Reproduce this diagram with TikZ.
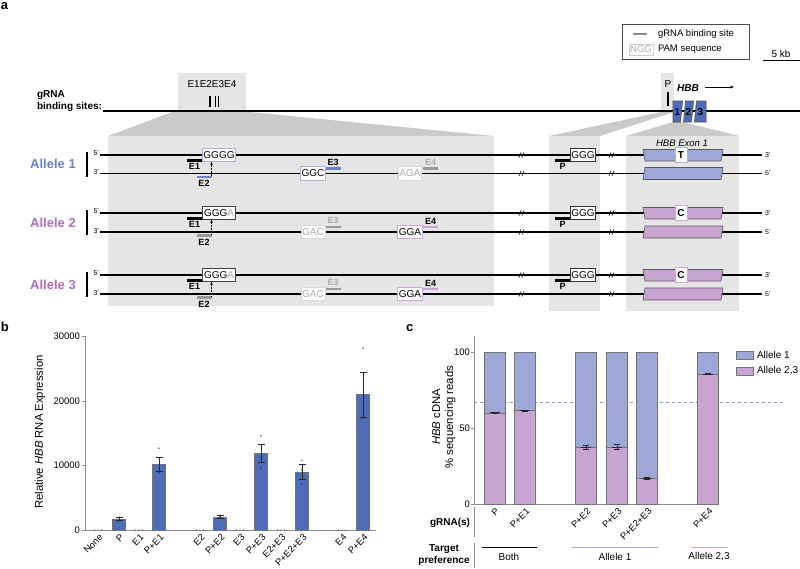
\documentclass[tikz,border=0pt]{standalone}
\usepackage{fontspec}
\setmainfont{Liberation Sans}
\usetikzlibrary{positioning, calc, arrows.meta}

\definecolor{alleleblue}{HTML}{6B80C8}
\definecolor{allelepurple}{HTML}{B06CC0}
\definecolor{exblue}{HTML}{9DA8D8}
\definecolor{expurple}{HTML}{C7A5D0}
\definecolor{pamblue}{HTML}{A8B3E0}
\definecolor{pampurple}{HTML}{CFA9D9}
\definecolor{barblue}{HTML}{4D6CB9}
\definecolor{boxgray}{HTML}{E5E5E5}
\definecolor{projgray}{HTML}{CACACA}
\definecolor{fadegray}{HTML}{ABABAB}

\begin{document}
\begin{tikzpicture}[x=1pt, y=-1pt,
    every node/.style={inner sep=0pt, outer sep=0pt},
    panel/.style={font=\bfseries\fontsize{13}{15}\selectfont, anchor=west},
    txt/.style={font=\fontsize{10}{12}\selectfont},
    strand/.style={line width=1.3pt},
    seqbox/.style={draw, fill=white, line width=0.8pt, inner xsep=1.2pt, minimum height=13.5pt, font=\fontsize{10}{12}\selectfont},
    basebox/.style={draw, fill=white, line width=0.8pt, minimum width=12pt, minimum height=15pt, font=\bfseries\fontsize{10}{12}\selectfont},
    grnabar/.style={minimum width=15pt, minimum height=2.6pt},
    elabel/.style={font=\bfseries\fontsize{9}{10}\selectfont},
    endlabel/.style={font=\fontsize{7}{8}\selectfont},
    allele/.style={font=\bfseries\fontsize{13}{15}\selectfont},
    exonshape/.style={draw=black!65, line width=0.6pt},
    cutarrow/.style={densely dotted, line width=0.5pt, -{Stealth[length=3pt, width=2.5pt]}},
    axisline/.style={draw=black!45, line width=0.6pt},
    ticklabel/.style={font=\fontsize{9.5}{11}\selectfont, anchor=east},
    xlab/.style={font=\fontsize{9.3}{11}\selectfont, rotate=45, anchor=east},
    bbar/.style={fill=barblue, draw=black!55, line width=0.5pt},
    cbar/.style={draw=black!55, line width=0.5pt},
    errbar/.style={draw=black!85, line width=0.5pt}
  ]
  \useasboundingbox (0,0) rectangle (800,568);

  % ---------- panel a ----------
  \node[panel] (pa) at (1,6) {a};

  % legend and scale
  \node[draw=black!70, line width=0.6pt, minimum width=127pt, minimum height=35pt, anchor=north west] (legend) at (622,24) {};
  \draw[line width=2.4pt, black!45] (633,34) -- (647,34);
  \node[txt, font=\fontsize{9.5}{11}\selectfont, anchor=west] (lgrna) at (658,34) {gRNA binding site};
  \node[seqbox, draw=black!20, text=fadegray, line width=0.6pt, minimum height=11pt, font=\fontsize{9.5}{11}\selectfont] (lgpam) at (641,49.5) {NGG};
  \node[txt, font=\fontsize{9.5}{11}\selectfont, anchor=west] (lgpamtxt) at (658,49.5) {PAM sequence};
  \draw[line width=0.7pt] (763,60) -- (800,60);
  \node[txt] (scale) at (781,53.5) {5 kb};

  % zoom projections and boxes
  \fill[boxgray] (178,73) rectangle (246,111);
  \fill[boxgray] (661,73) rectangle (674,111);
  \fill[projgray] (172,112) -- (250,112) -- (494,136) -- (108,136) -- cycle;
  \fill[projgray] (661,112) -- (674,112) -- (600,136) -- (549,136) -- cycle;
  \fill[projgray] (673,122) -- (683,122) -- (739,136) -- (626,136) -- cycle;
  \fill[boxgray] (108,136) rectangle (494,306);
  \fill[boxgray] (549,136) rectangle (600,311);
  \fill[boxgray] (626,136) rectangle (739,311);

  % chromosome
  \node[font=\bfseries\fontsize{10}{12}\selectfont, align=left, anchor=west] (gbs) at (37,101) {gRNA\\binding sites:};
  \draw[line width=2.7pt] (103,111) -- (800,111);
  \node[txt] (enames) at (212,84) {E1E2E3E4};
  \draw[line width=1.4pt] (210,96) -- (210,107) (215.3,96) -- (215.3,107) (218.3,96) -- (218.3,107);
  \node[txt] (pname) at (668,84) {P};
  \draw[line width=1.2pt] (668,92) -- (668,106);
  \filldraw[fill=barblue, draw=black!70, line width=0.6pt] (673,101) -- (682.5,101) -- (680.5,122) -- (673,122) -- cycle;
  \filldraw[fill=barblue, draw=black!70, line width=0.6pt] (685.5,101) -- (693.5,101) -- (691.5,122) -- (683.5,122) -- cycle;
  \filldraw[fill=barblue, draw=black!70, line width=0.6pt] (696.5,101) -- (706,101) -- (706,122) -- (694.5,122) -- cycle;
  \node[font=\bfseries\fontsize{10}{12}\selectfont] (ex1) at (677.5,112) {1};
  \node[font=\bfseries\fontsize{10}{12}\selectfont] (ex2) at (688.5,112) {2};
  \node[font=\bfseries\fontsize{10}{12}\selectfont] (ex3) at (700.5,112) {3};
  \node[font=\bfseries\itshape\fontsize{10}{12}\selectfont] (hbb) at (688,88) {HBB};
  \draw[line width=0.7pt, -{Stealth[length=4pt, width=3pt]}] (705,87) -- (734,87);
  \node[font=\itshape\fontsize{9.5}{11}\selectfont] (exlab) at (682,143) {HBB Exon 1};

  % allele 1
  \draw[strand] (100,155) -- (762,155);
  \draw[strand] (100,173.5) -- (762,173.5);
  \draw[line width=1.5pt] (87,152) -- (87,177);
  \node[allele, text=alleleblue] (al1) at (53,164) {Allele 1};
  \node[endlabel, anchor=east] at (99,153.5) {5'};
  \node[endlabel, anchor=east] at (99,172.5) {3'};
  \node[endlabel, anchor=west] at (765,155) {3'};
  \node[endlabel, anchor=west] at (765,173.5) {5'};
  \node[seqbox, draw=pamblue] (pam1) at (219,155) {GGGG};
  \node[grnabar, fill=black] (e1a) at (194.5,160.5) {};
  \node[elabel, below=2pt of e1a] {E1};
  \node[grnabar, fill=alleleblue] (e2a) at (204,177) {};
  \node[elabel, below=2pt of e2a] {E2};
  \draw[cutarrow] (e2a.north east) -- (e2a.north east |- pam1.south);
  \node[seqbox, draw=pamblue] (gc1) at (313,173.5) {GGC};
  \node[grnabar, fill=alleleblue] (e3a) at (333,168.3) {};
  \node[elabel, above=1.5pt of e3a] {E3};
  \node[seqbox, draw=black!15, text=fadegray] (ag1) at (410,173.5) {AGA};
  \node[grnabar, fill=black!40] (e4a) at (430.5,168.3) {};
  \node[elabel, text=fadegray, above=1.5pt of e4a] {E4};
  \node[seqbox, draw=black!80] (pp1) at (583,155) {GGG};
  \node[grnabar, fill=black] (pb1) at (562.5,160.5) {};
  \node[elabel, below=1.5pt of pb1] {P};
  \filldraw[exonshape, fill=exblue] (643,149.5) -- (723,149.5) -- (721,161) -- (645,161) -- cycle;
  \filldraw[exonshape, fill=exblue] (645,167.5) -- (723,167.5) -- (721,179.5) -- (643,179.5) -- cycle;
  \node[basebox, draw=pamblue] (base1) at (681,155) {T};

  % alleles 2 and 3
  \foreach \n/\yt/\yb in {2/213/232, 3/275/294} {
    \draw[strand] (100,\yt) -- (762,\yt);
    \draw[strand] (100,\yb) -- (762,\yb);
    \draw[line width=1.5pt] (87,\yt-3) -- (87,\yb+3);
    \node[allele, text=allelepurple] (al\n) at (53,{(\yt+\yb)/2}) {Allele \n};
    \node[endlabel, anchor=east] at (99,\yt-1.5) {5'};
    \node[endlabel, anchor=east] at (99,\yb-1) {3'};
    \node[endlabel, anchor=west] at (765,\yt) {3'};
    \node[endlabel, anchor=west] at (765,\yb) {5'};
    \node[seqbox, draw=black!75] (pam\n) at (219,\yt) {GGG\textcolor{fadegray}{A}};
    \node[grnabar, fill=black] (e1\n) at (194.5,\yt+5.5) {};
    \node[elabel, below=2pt of e1\n] {E1};
    \node[grnabar, fill=black!40] (e2\n) at (204,\yb+3.5) {};
    \node[elabel, below=2pt of e2\n] {E2};
    \draw[cutarrow] (e2\n.north east) -- (e2\n.north east |- pam\n.south);
    \node[seqbox, draw=black!15, text=fadegray] (gac\n) at (313,\yb) {GAC};
    \node[grnabar, fill=black!40] (e3\n) at (333,\yb-5.2) {};
    \node[elabel, text=fadegray, above=1.5pt of e3\n] {E3};
    \node[seqbox, draw=pampurple] (gga\n) at (410,\yb) {GGA};
    \node[grnabar, fill=expurple] (e4\n) at (430.5,\yb-5.2) {};
    \node[elabel, above=1.5pt of e4\n] {E4};
    \node[seqbox, draw=black!80] (pp\n) at (583,\yt) {GGG};
    \node[grnabar, fill=black] (pb\n) at (562.5,\yt+5.5) {};
    \node[elabel, below=1.5pt of pb\n] {P};
    \filldraw[exonshape, fill=expurple] (643,\yt-5.5) -- (723,\yt-5.5) -- (721,\yt+6) -- (645,\yt+6) -- cycle;
    \filldraw[exonshape, fill=expurple] (645,\yb-6) -- (723,\yb-6) -- (721,\yb+6) -- (643,\yb+6) -- cycle;
    \node[basebox, draw=pampurple] (base\n) at (681,\yt) {C};
  }

  % breaks in the strands
  \foreach \yy in {155,173.5,213,232,275,294}
    \foreach \xx in {522,612} {
      \draw[line width=0.6pt] (\xx-3,\yy+2.5) -- (\xx-1,\yy-2.5) (\xx,\yy+2.5) -- (\xx+2,\yy-2.5);
    }

  % ---------- panel b ----------
  \node[panel] (pb) at (1,327) {b};
  \node[rotate=90, font=\fontsize{11.3}{13}\selectfont] (ylabb) at (40,432) {Relative \textit{HBB} RNA Expression};
  \begin{scope}[shift={(0,530)}, y=6.45pt]
    \draw[axisline] (85,30.1) -- (85,0) -- (376,0);
    \foreach \v/\t in {0/0, 10/10000, 20/20000, 30/30000} {
      \draw[axisline] (82,\v) -- (85,\v);
      \node[ticklabel] at (80,\v) {\t};
    }
    \foreach \x/\v/\e in {119/1.7/0.25, 159/10.2/1.15, 220/2.05/0.3, 261/11.9/1.4, 302/9.0/1.15, 363/21.0/3.5} {
      \draw[bbar] (\x-6.5,0) rectangle (\x+6.5,\v);
      \draw[errbar] (\x,\v-\e) -- (\x,\v+\e) (\x-3.5,\v+\e) -- (\x+3.5,\v+\e) (\x-3.5,\v-\e) -- (\x+3.5,\v-\e);
    }
    \foreach \x/\v in {119/2.0, 119/1.5, 119/1.4, 159/12.7, 159/9.0, 159/8.9, 220/2.3, 220/1.9, 220/2.0,
        261/14.6, 261/11.3, 261/9.6, 302/10.8, 302/9.3, 302/7.1, 363/28.2, 363/17.5, 363/17.3}
      \fill[black!80] (\x,\v) circle (0.8pt);
    \foreach \x in {98,139,200,240,281,342}
      \foreach \d in {-3.5,0,3.5}
        \fill[black!70] (\x+\d,0) circle (0.7pt);
  \end{scope}
  \foreach \x/\lab in {98/None, 119/P, 139/E1, 159/P+E1, 200/E2, 220/P+E2, 240/E3, 261/P+E3, 281/E2+E3, 302/P+E2+E3, 342/E4, 363/P+E4}
    \node[xlab] at (\x+3,536) {\lab};

  % ---------- panel c ----------
  \node[panel] (pc) at (406,328) {c};
  \node[rotate=90, align=center, font=\fontsize{11.3}{13}\selectfont] (ylabc) at (444,417) {\textit{HBB} cDNA\\\% sequencing reads};
  \begin{scope}[shift={(0,504)}, y=1.52pt]
    \draw[dashed, exblue!85!black, line width=0.6pt] (474,67) -- (786,67);
    \draw[axisline] (474,110.5) -- (474,0) -- (718,0);
    \foreach \v in {0,50,100} {
      \draw[axisline] (471,\v) -- (474,\v);
      \node[ticklabel] at (470,\v) {\v};
    }
    \foreach \x/\v/\e in {494.5/60/0.4, 525/61.5/0.4, 586/37.5/1.2, 617/37.5/1.8, 647/17/0.4, 708/85.5/0.4} {
      \draw[cbar, fill=expurple] (\x-10.5,0) rectangle (\x+10.5,\v);
      \draw[cbar, fill=exblue] (\x-10.5,\v) rectangle (\x+10.5,100);
      \draw[errbar, line width=0.9pt] (\x-5,\v) -- (\x+5,\v);
      \draw[errbar] (\x,\v-\e) -- (\x,\v+\e) (\x-3,\v+\e) -- (\x+3,\v+\e) (\x-3,\v-\e) -- (\x+3,\v-\e);
    }
  \end{scope}
  \foreach \x/\lab in {494.5/P, 525/P+E1, 586/P+E2, 617/P+E3, 647/P+E2+E3, 708/P+E4}
    \node[xlab] at (\x+3,510) {\lab};

  % legend c
  \filldraw[cbar, fill=exblue] (736,351) rectangle (753,359.5);
  \node[txt, anchor=west] (lgal1) at (757,355) {Allele 1};
  \filldraw[cbar, fill=expurple] (736,367) rectangle (753,375.5);
  \node[txt, anchor=west] (lgal23) at (757,371) {Allele 2,3};

  % gRNA and target rows
  \node[font=\bfseries\fontsize{10}{12}\selectfont, anchor=east] (grnas) at (470,523) {gRNA(s)};
  \draw[axisline] (474,507) -- (474,537);
  \node[font=\bfseries\fontsize{10}{12}\selectfont, align=center] (target) at (444,555) {Target\\preference};
  \draw[axisline] (474,543) -- (474,568);
  \draw[line width=1pt] (482,547) -- (537,547);
  \node[txt] (both) at (509,557) {Both};
  \draw[line width=1pt, exblue] (572,547) -- (658,547);
  \node[txt] (tal1) at (615,557) {Allele 1};
  \draw[line width=1pt, expurple] (692,547) -- (727,547);
  \node[txt] (tal23) at (709,557) {Allele 2,3};
\end{tikzpicture}
\end{document}
